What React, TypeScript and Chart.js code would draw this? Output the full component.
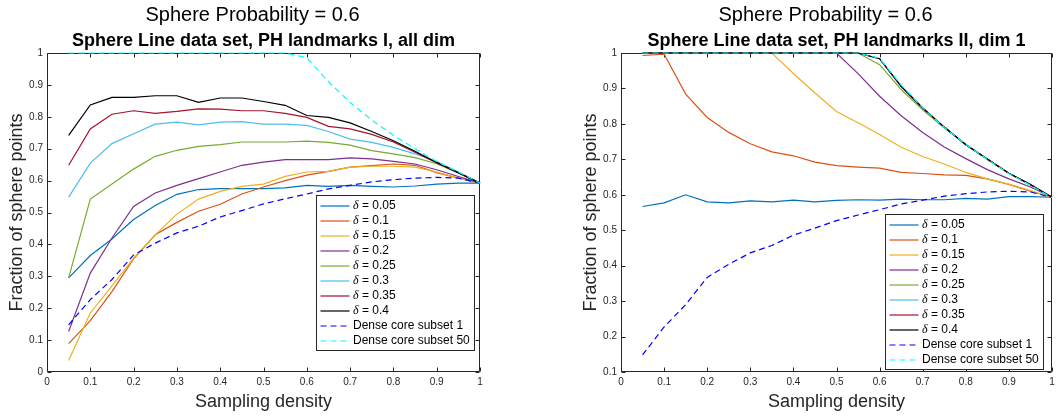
import React, { useEffect, useRef } from 'react';
import { Chart, registerables } from 'chart.js';

Chart.register(...registerables);
Chart.defaults.font.family = "'Liberation Sans', Arial, Helvetica, sans-serif";

// ---------- data ----------
const densities = [0.05, 0.1, 0.15, 0.2, 0.25, 0.3, 0.35, 0.4, 0.45, 0.5, 0.55, 0.6, 0.65, 0.7, 0.75, 0.8, 0.85, 0.9, 0.95, 1.0];
const deltaValues = ['0.05', '0.1', '0.15', '0.2', '0.25', '0.3', '0.35', '0.4'];
const denseLabels = ['Dense core subset 1', 'Dense core subset 50'];
const xTickValues = [0, 0.1, 0.2, 0.3, 0.4, 0.5, 0.6, 0.7, 0.8, 0.9, 1];
const leftYTickValues = [0, 0.1, 0.2, 0.3, 0.4, 0.5, 0.6, 0.7, 0.8, 0.9, 1];
const rightYTickValues = [0.1, 0.2, 0.3, 0.4, 0.5, 0.6, 0.7, 0.8, 0.9, 1];

const mainTitle = 'Sphere Probability = 0.6';
const leftSubtitle = 'Sphere Line data set, PH landmarks I, all dim';
const rightSubtitle = 'Sphere Line data set, PH landmarks II, dim 1';
const xTitle = 'Sampling density';
const yTitle = 'Fraction of sphere points';

// left panel: PH landmarks I, all dim
const leftD005 = [0.295, 0.365, 0.417, 0.478, 0.522, 0.557, 0.572, 0.575, 0.575, 0.575, 0.577, 0.585, 0.582, 0.585, 0.582, 0.580, 0.583, 0.589, 0.592, 0.592];
const leftD010 = [0.089, 0.161, 0.252, 0.355, 0.430, 0.469, 0.504, 0.526, 0.558, 0.580, 0.600, 0.617, 0.629, 0.642, 0.647, 0.652, 0.648, 0.625, 0.608, 0.592];
const leftD015 = [0.036, 0.185, 0.270, 0.357, 0.430, 0.495, 0.542, 0.566, 0.582, 0.589, 0.613, 0.627, 0.629, 0.642, 0.645, 0.645, 0.642, 0.627, 0.608, 0.592];
const leftD020 = [0.127, 0.310, 0.420, 0.519, 0.561, 0.585, 0.606, 0.627, 0.648, 0.658, 0.666, 0.666, 0.666, 0.671, 0.668, 0.660, 0.652, 0.634, 0.613, 0.592];
const leftD025 = [0.295, 0.542, 0.589, 0.636, 0.676, 0.695, 0.707, 0.713, 0.721, 0.721, 0.721, 0.724, 0.720, 0.711, 0.694, 0.684, 0.672, 0.653, 0.624, 0.592];
const leftD030 = [0.548, 0.655, 0.716, 0.747, 0.777, 0.783, 0.775, 0.783, 0.785, 0.777, 0.777, 0.773, 0.754, 0.730, 0.720, 0.704, 0.684, 0.660, 0.627, 0.592];
const leftD035 = [0.648, 0.762, 0.808, 0.819, 0.811, 0.817, 0.825, 0.824, 0.819, 0.819, 0.811, 0.798, 0.770, 0.762, 0.745, 0.721, 0.689, 0.655, 0.624, 0.592];
const leftD040 = [0.742, 0.837, 0.861, 0.861, 0.866, 0.866, 0.845, 0.859, 0.859, 0.848, 0.836, 0.804, 0.798, 0.781, 0.754, 0.725, 0.692, 0.657, 0.625, 0.592];

// right panel: PH landmarks II, dim 1
const rightD005 = [0.567, 0.577, 0.600, 0.580, 0.577, 0.583, 0.580, 0.585, 0.580, 0.584, 0.586, 0.585, 0.588, 0.586, 0.586, 0.590, 0.588, 0.595, 0.595, 0.593];
const rightD010 = [0.993, 0.997, 0.884, 0.818, 0.776, 0.744, 0.721, 0.710, 0.692, 0.682, 0.678, 0.675, 0.663, 0.660, 0.656, 0.655, 0.645, 0.629, 0.610, 0.593];
const rightD015 = [1, 1, 1, 1, 1, 1, 1, 0.942, 0.887, 0.835, 0.803, 0.770, 0.734, 0.708, 0.687, 0.663, 0.645, 0.630, 0.612, 0.593];
const rightD020 = [1, 1, 1, 1, 1, 1, 1, 1, 1, 1, 0.942, 0.878, 0.823, 0.776, 0.735, 0.702, 0.671, 0.645, 0.622, 0.593];
const rightD025 = [1, 1, 1, 1, 1, 1, 1, 1, 1, 1, 1, 0.967, 0.897, 0.840, 0.788, 0.743, 0.699, 0.660, 0.627, 0.593];
const rightD030 = [1, 1, 1, 1, 1, 1, 1, 1, 1, 1, 1, 0.984, 0.906, 0.845, 0.791, 0.741, 0.701, 0.661, 0.629, 0.593];
const rightD035 = [1, 1, 1, 1, 1, 1, 1, 1, 1, 1, 1, 0.984, 0.906, 0.845, 0.791, 0.741, 0.701, 0.661, 0.629, 0.593];
const rightD040 = [1, 1, 1, 1, 1, 1, 1, 1, 1, 1, 1, 0.984, 0.906, 0.845, 0.791, 0.741, 0.701, 0.661, 0.629, 0.593];

// shared reference curves
const denseCore1 = [0.148, 0.227, 0.290, 0.367, 0.404, 0.436, 0.457, 0.486, 0.506, 0.527, 0.543, 0.558, 0.574, 0.585, 0.596, 0.603, 0.608, 0.610, 0.608, 0.592];
const denseCore50 = [1, 1, 1, 1, 1, 1, 1, 1, 1, 1, 1, 0.985, 0.910, 0.845, 0.790, 0.742, 0.700, 0.660, 0.627, 0.592];

// ---------- styles ----------
const deltaColors = ['#0072BD', '#D95319', '#EDB120', '#7E2F8E', '#77AC30', '#4DBEEE', '#A2142F', '#000000'];
const denseColors = ['#0000FF', '#00FFFF'];
const axisColor = '#262626';
const SANS = "'Liberation Sans', Arial, Helvetica, sans-serif";

const framePlugin = {
  id: 'matlabFrame',
  beforeDatasetsDraw(chart: any) {
    const { ctx, chartArea: a, scales } = chart;
    ctx.save();
    ctx.strokeStyle = axisColor;
    ctx.lineWidth = 1;
    const L = Math.round(a.left) + 0.5;
    const R = Math.round(a.right) - 0.5;
    const T = Math.round(a.top) + 0.5;
    const B = Math.round(a.bottom) - 0.5;
    ctx.beginPath();
    ctx.rect(L, T, R - L, B - T);
    const tl = 4;
    scales.x.ticks.forEach((t: any) => {
      const px = Math.round(scales.x.getPixelForValue(t.value)) + 0.5;
      ctx.moveTo(px, B); ctx.lineTo(px, B - tl);
      ctx.moveTo(px, T); ctx.lineTo(px, T + tl);
    });
    scales.y.ticks.forEach((t: any) => {
      const py = Math.round(scales.y.getPixelForValue(t.value)) + 0.5;
      ctx.moveTo(L, py); ctx.lineTo(L + tl, py);
      ctx.moveTo(R, py); ctx.lineTo(R - tl, py);
    });
    ctx.stroke();
    ctx.restore();
  },
};

const mainTitlePlugin = {
  id: 'mainTitle',
  afterDraw(chart: any, _args: any, opts: any) {
    const { ctx, chartArea: a } = chart;
    ctx.save();
    ctx.font = `20px ${SANS}`;
    ctx.fillStyle = '#000';
    ctx.textAlign = 'center';
    ctx.textBaseline = 'middle';
    ctx.fillText(opts.text, (a.left + a.right) / 2 + opts.shift, opts.y);
    ctx.restore();
  },
};

const legendPlugin = {
  id: 'matlabLegend',
  afterDatasetsDraw(chart: any, _args: any, opts: any) {
    const { ctx, chartArea: a } = chart;
    const ds = chart.data.datasets;
    const sans = `12px ${SANS}`;
    const serif = "italic 12px 'Liberation Serif', 'DejaVu Serif', serif";
    ctx.save();
    const widthOf = (label: string) => {
      if (label.startsWith('δ')) {
        ctx.font = serif;
        const w1 = ctx.measureText('δ').width;
        ctx.font = sans;
        return w1 + ctx.measureText(label.slice(1)).width;
      }
      ctx.font = sans;
      return ctx.measureText(label).width;
    };
    const maxW = Math.max(...ds.map((d: any) => widthOf(d.label)));
    const textX = 36.5;
    const row = 15;
    const w = Math.round(textX + maxW + 4.5);
    const h = ds.length * row + 5;
    const x0 = Math.round(a.right - opts.right - w) + 0.5;
    const y0 = Math.round(a.bottom - opts.bottom - h) + 0.5;
    ctx.fillStyle = '#fff';
    ctx.fillRect(x0, y0, w, h);
    ctx.strokeStyle = axisColor;
    ctx.lineWidth = 1;
    ctx.strokeRect(x0, y0, w, h);
    ds.forEach((d: any, i: number) => {
      const cy = y0 + 10.5 + i * row;
      ctx.strokeStyle = d.borderColor;
      ctx.lineWidth = d.borderWidth;
      ctx.setLineDash(d.borderDash || []);
      ctx.beginPath();
      ctx.moveTo(x0 + 4, cy);
      ctx.lineTo(x0 + 33, cy);
      ctx.stroke();
      ctx.setLineDash([]);
      ctx.fillStyle = '#000';
      ctx.textAlign = 'left';
      ctx.textBaseline = 'middle';
      let tx = x0 + textX;
      const label: string = d.label;
      if (label.startsWith('δ')) {
        ctx.font = serif;
        ctx.fillText('δ', tx, cy);
        tx += ctx.measureText('δ').width;
        ctx.font = sans;
        ctx.fillText(label.slice(1), tx, cy);
      } else {
        ctx.font = sans;
        ctx.fillText(label, tx, cy);
      }
    });
    ctx.restore();
  },
};

type Panel = {
  subtitle: string;
  yMin: number;
  yTicks: number[];
  series: number[][];
  padRight: number;
  legendRight: number;
  legendBottom: number;
};

function buildConfig(p: Panel): any {
  const labels = [...deltaValues.map((v) => `δ = ${v}`), ...denseLabels];
  const colors = [...deltaColors, ...denseColors];
  const n = p.series.length;
  const datasets = p.series.map((vals, i) => ({
    label: labels[i],
    data: densities.map((d, j) => ({ x: d, y: vals[j] })),
    borderColor: colors[i],
    backgroundColor: colors[i],
    borderWidth: 1.2,
    borderDash: i >= deltaValues.length ? [6, 4] : [],
    pointRadius: 0,
    pointHoverRadius: 0,
    tension: 0,
    fill: false,
    clip: false,
    order: n - i,
  }));
  const tickFont = { size: 10, family: SANS };
  return {
    type: 'line',
    data: { datasets },
    plugins: [framePlugin, legendPlugin, mainTitlePlugin],
    options: {
      animation: false,
      responsive: false,
      maintainAspectRatio: false,
      events: [],
      layout: { padding: { left: 0, right: p.padRight, top: 0, bottom: 0 } },
      plugins: {
        legend: { display: false },
        tooltip: { enabled: false },
        title: {
          display: true,
          text: p.subtitle,
          fullSize: false,
          color: '#000',
          font: { size: 18, weight: 'bold', family: SANS, lineHeight: 1.2 },
          padding: { top: 30, bottom: 1.4 },
        },
        mainTitle: { text: mainTitle, shift: -11, y: 15 },
        matlabLegend: { right: p.legendRight, bottom: p.legendBottom },
      },
      scales: {
        x: {
          type: 'linear',
          min: 0,
          max: 1,
          grid: { display: false, drawTicks: false },
          border: { display: false },
          afterBuildTicks: (s: any) => { s.ticks = xTickValues.map((v) => ({ value: v })); },
          afterFit: (s: any) => { s.height = 44; s.paddingLeft = 0; s.paddingRight = 0; },
          ticks: { padding: 4, color: axisColor, font: tickFont, autoSkip: false, maxRotation: 0, callback: (v: any) => String(v) },
          title: { display: true, text: xTitle, color: axisColor, font: { size: 18, family: SANS, lineHeight: 1.2 }, padding: { top: 0, bottom: 3.5 } },
        },
        y: {
          type: 'linear',
          min: p.yMin,
          max: 1,
          grid: { display: false, drawTicks: false },
          border: { display: false },
          afterBuildTicks: (s: any) => { s.ticks = p.yTicks.map((v) => ({ value: v })); },
          afterFit: (s: any) => { s.width = 47; s.paddingTop = 0; s.paddingBottom = 0; },
          ticks: { padding: 4, color: axisColor, font: tickFont, autoSkip: false, callback: (v: any) => String(v) },
          title: { display: true, text: yTitle, color: axisColor, font: { size: 18, family: SANS, lineHeight: 1.2 }, padding: { top: 6, bottom: 0 } },
        },
      },
    },
  };
}

const leftPanel: Panel = {
  subtitle: leftSubtitle,
  yMin: 0,
  yTicks: leftYTickValues,
  series: [leftD005, leftD010, leftD015, leftD020, leftD025, leftD030, leftD035, leftD040, denseCore1, denseCore50],
  padRight: 49,
  legendRight: 6,
  legendBottom: 22,
};

const rightPanel: Panel = {
  subtitle: rightSubtitle,
  yMin: 0.1,
  yTicks: rightYTickValues,
  series: [rightD005, rightD010, rightD015, rightD020, rightD025, rightD030, rightD035, rightD040, denseCore1, denseCore50],
  padRight: 6,
  legendRight: 9,
  legendBottom: 3,
};

export default function App() {
  const leftRef = useRef<HTMLCanvasElement | null>(null);
  const rightRef = useRef<HTMLCanvasElement | null>(null);

  useEffect(() => {
    const charts: Chart[] = [];
    if (leftRef.current) charts.push(new Chart(leftRef.current, buildConfig(leftPanel)));
    if (rightRef.current) charts.push(new Chart(rightRef.current, buildConfig(rightPanel)));
    return () => charts.forEach((c) => c.destroy());
  }, []);

  return (
    <div style={{ position: 'fixed', left: 0, top: 0, width: 1058, height: 416, background: '#fff', overflow: 'hidden' }}>
      <canvas ref={leftRef} width={529} height={416} style={{ position: 'absolute', left: 0, top: 0 }} />
      <canvas ref={rightRef} width={484} height={416} style={{ position: 'absolute', left: 574, top: 0 }} />
    </div>
  );
}
